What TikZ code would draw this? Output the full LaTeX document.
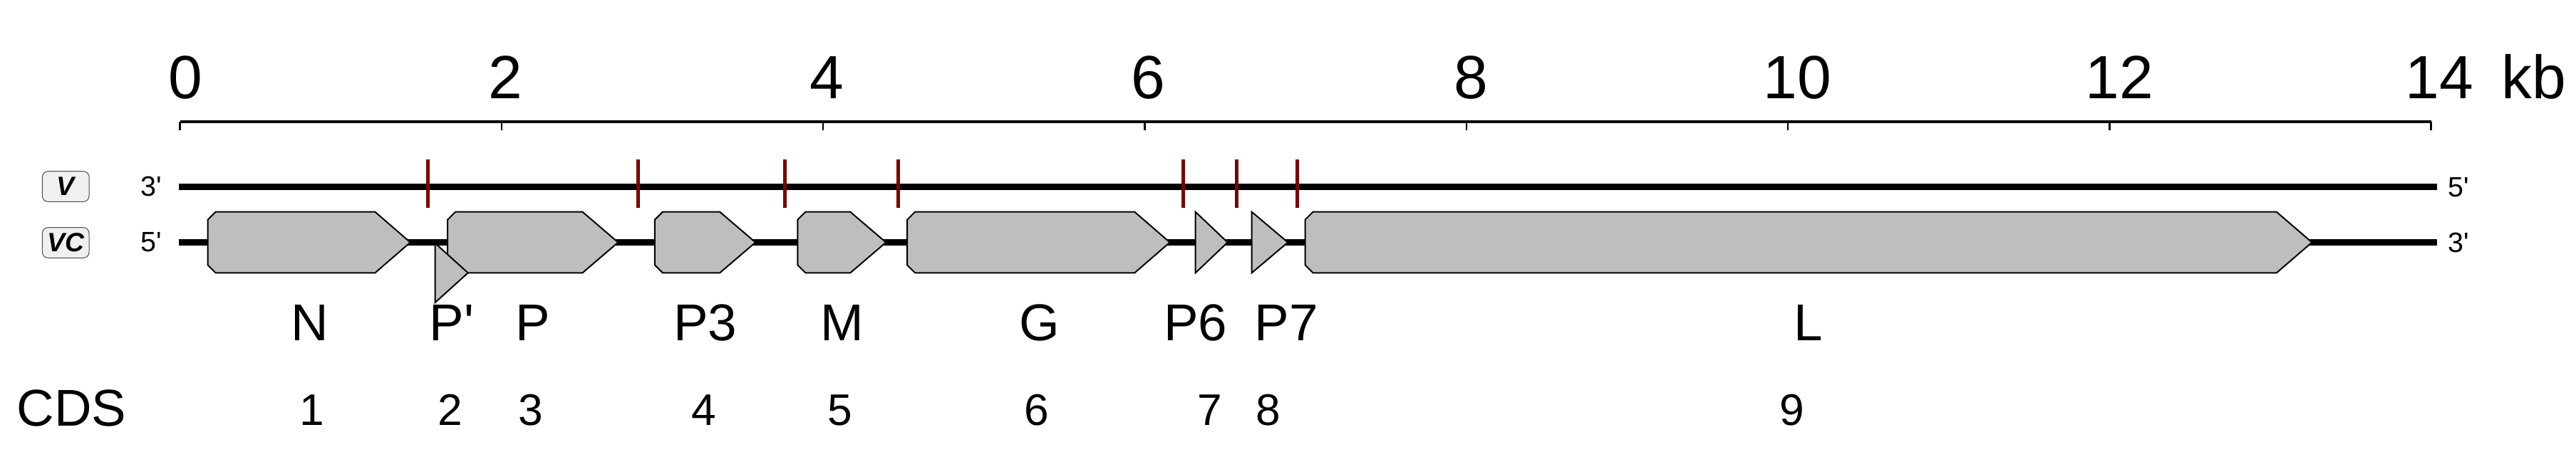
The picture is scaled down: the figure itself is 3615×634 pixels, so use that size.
\documentclass[tikz,border=0pt]{standalone}
\usepackage{fontspec}
\setmainfont{Liberation Sans}
\definecolor{genefill}{RGB}{190,190,190}
\definecolor{siteRed}{RGB}{125,0,0}
\definecolor{boxfill}{RGB}{240,240,240}
\newcommand\myq{\textquotesingle}
\newcommand\genearrow[4]{% name, x0, head, tip
  \draw[genebox] (#2,308.7) -- (#2+11,297.7) -- (#3,297.7) -- (#4,340.5) -- (#3,383.3) -- (#2+11,383.3) -- (#2,372.3) -- cycle;
  \coordinate (#1) at ({(#2+#4)/2},340.5);}
\newcommand\genetri[5]{% name, x0, tip, ytop, ybot
  \draw[genebox] (#2,#4) -- (#3,{(#4+#5)/2}) -- (#2,#5) -- cycle;
  \coordinate (#1) at ({(#2+#3)/2},{(#4+#5)/2});}
\begin{document}
\begin{tikzpicture}[x=0.1mm,y=-0.1mm,
  genebox/.style={draw=black,fill=genefill,line width=0.2mm,line join=miter},
  strand/.style={line width=0.85mm},
  site/.style={draw=siteRed,line width=0.5mm},
  scalelbl/.style={inner sep=0pt,anchor=base,font=\fontsize{24.4pt}{28pt}\selectfont},
  genelbl/.style={inner sep=0pt,anchor=base,font=\fontsize{20.7pt}{24pt}\selectfont},
  cdslbl/.style={inner sep=0pt,anchor=base,font=\fontsize{17.7pt}{21pt}\selectfont},
  endlbl/.style={inner sep=0pt,anchor=center,font=\fontsize{11.2pt}{13pt}\selectfont},
  tagbox/.style={draw=black!70,fill=boxfill,line width=0.1mm,rounded corners=0.8mm,
    minimum width=6.57mm,minimum height=4.26mm,inner sep=0pt,
    font=\fontsize{10.6pt}{12pt}\selectfont\bfseries\itshape}]
\path[use as bounding box] (0,0) rectangle (3615,634);
% scale axis
\coordinate (ax0) at (252.6,170.6);
\coordinate (ax14) at (3411.7,170.6);
\draw[line width=0.4mm] (ax0) -- (ax14);
\foreach \k in {0,2,...,14}{
  \draw[line width=0.25mm] (252.6+225.65*\k,170.6) -- (252.6+225.65*\k,183);
}
\node[scalelbl] (t0) at (260.6,138.3) {0};
\node[scalelbl] (t2) at (709.5,138.3) {2};
\node[scalelbl] (t4) at (1160,138.3) {4};
\node[scalelbl] (t6) at (1611.8,138.3) {6};
\node[scalelbl] (t8) at (2064,138.3) {8};
\node[scalelbl] (t10) at (2522,138.3) {10};
\node[scalelbl] (t12) at (2974,138.3) {12};
\node[scalelbl] (t14) at (3423.6,138.3) {14};
\node[scalelbl] (kb) at (3555.5,138.3) {kb};
% strand tags
\node[tagbox] (tagV) at (92.2,262) {V};
\node[tagbox] (tagVC) at (92.2,341) {VC};
\node[endlbl] (v3) at (212,261.5) {3\myq};
\node[endlbl] (vc5) at (212,340) {5\myq};
\node[endlbl] (v5) at (3450,263) {5\myq};
\node[endlbl] (vc3) at (3450,341) {3\myq};
% strands
\coordinate (vL) at (251,262.5);
\coordinate (vR) at (3420,262.5);
\coordinate (cL) at (251,340.5);
\coordinate (cR) at (3420,340.5);
\draw[strand] (vL) -- (vR);
\draw[strand] (cL) -- (cR);
% sites
\foreach \x in {600,895.5,1101.5,1260.5,1660,1735,1820}{
  \draw[site] (\x,224) -- (\x,292.3);
}
% genes
\genearrow{gN}{291.6}{526.4}{575.8}
\genearrow{gP}{628}{817.5}{867.4}
\genetri{gPp}{610.7}{656.7}{341.7}{425}
\genearrow{gP3}{918.9}{1010.2}{1060.2}
\genearrow{gM}{1119.3}{1193.3}{1243.3}
\genearrow{gG}{1273.1}{1592.3}{1641.7}
\genetri{gP6}{1677.7}{1722.7}{297.7}{383.3}
\genetri{gP7}{1756.7}{1807.3}{297.7}{383.3}
\genearrow{gL}{1831.6}{3194.8}{3244.4}
% gene names
\node[genelbl] (nN) at (435,478.4) {N};
\node[genelbl] (nPp) at (634,478.4) {P\myq};
\node[genelbl] (nP) at (748,478.4) {P};
\node[genelbl] (nP3) at (989.8,478.4) {P3};
\node[genelbl] (nM) at (1181.3,478.4) {M};
\node[genelbl] (nG) at (1458.8,478.4) {G};
\node[genelbl] (nP6) at (1677.8,478.4) {P6};
\node[genelbl] (nP7) at (1805,478.4) {P7};
\node[genelbl] (nL) at (2538.2,478.4) {L};
% CDS
\node[genelbl] (cds) at (100.5,598.3) {CDS};
\node[cdslbl] (c1) at (437.4,597.6) {1};
\node[cdslbl] (c2) at (631.5,597.6) {2};
\node[cdslbl] (c3) at (745.1,597.6) {3};
\node[cdslbl] (c4) at (987.3,597.6) {4};
\node[cdslbl] (c5) at (1179,597.6) {5};
\node[cdslbl] (c6) at (1455,597.6) {6};
\node[cdslbl] (c7) at (1698,597.6) {7};
\node[cdslbl] (c8) at (1780,597.6) {8};
\node[cdslbl] (c9) at (2514.7,597.6) {9};
\end{tikzpicture}
\end{document}
